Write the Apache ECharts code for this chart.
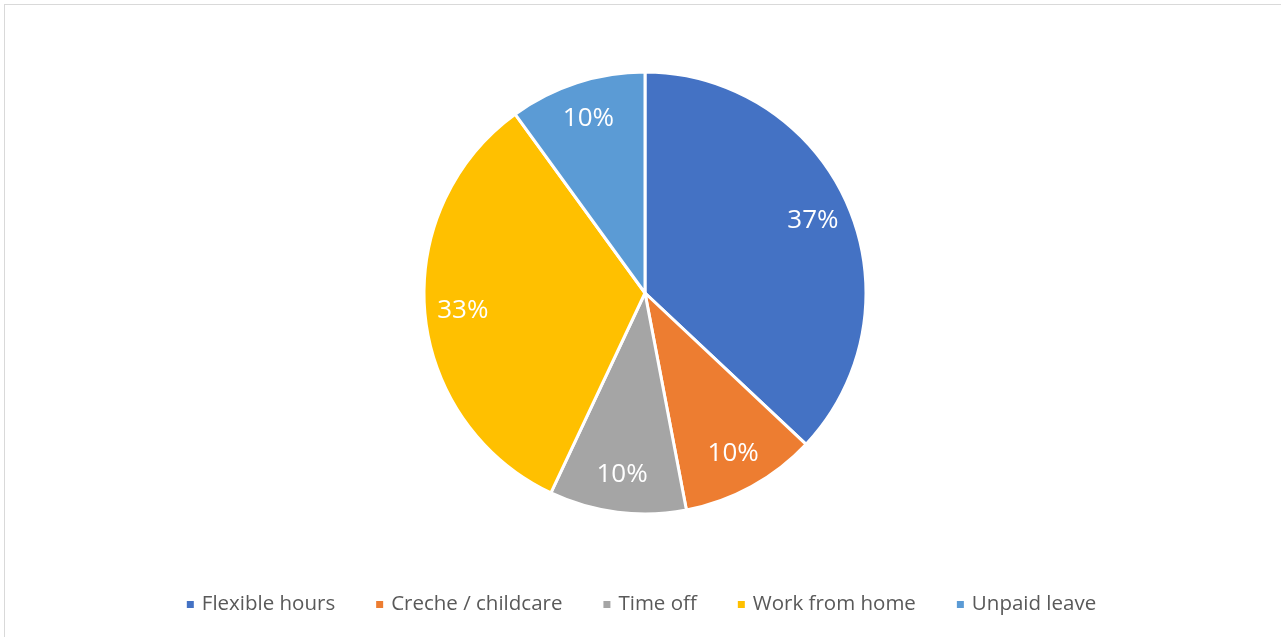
<!DOCTYPE html>
<html>
<head>
<meta charset="utf-8">
<style>
  html, body { margin: 0; padding: 0; background: #fff; }
  #frame { position: absolute; left: 4px; top: 4px; width: 1300px; height: 660px;
           border-top: 1.5px solid #d9d9d9; border-left: 1.5px solid #d9d9d9; }
  #chart { position: absolute; left: 0; top: 0; width: 1281px; height: 637px; }
</style>
<script src="https://cdn.jsdelivr.net/npm/echarts@6/dist/echarts.min.js"></script>
</head>
<body>
<div id="frame"></div>
<div id="chart"></div>
<script>
const categories = ['Flexible hours', 'Creche / childcare', 'Time off', 'Work from home', 'Unpaid leave'];
const shares = [37, 10, 10, 33, 10];
const palette = ['#4472C4', '#ED7D31', '#A5A5A5', '#FFC000', '#5B9BD5'];

const slices = categories.map((name, i) => ({ name, value: shares[i] }));
const center = [645, 293];

const chart = echarts.init(document.getElementById('chart'), null, { renderer: 'canvas' });
chart.setOption({
  animation: false,
  color: palette,
  textStyle: { fontFamily: 'Open Sans' },
  legend: {
    data: categories,
    bottom: 17,
    left: 'center',
    icon: 'rect',
    itemWidth: 9,
    itemHeight: 9,
    itemGap: 39,
    textStyle: { fontSize: 20.5, color: '#595959', fontFamily: 'Open Sans', padding: [0, 0, 0, 2] }
  },
  series: [
    {
      type: 'pie',
      center: center,
      radius: [0, 221],
      startAngle: 90,
      clockwise: true,
      silent: true,
      data: slices,
      itemStyle: { borderColor: '#fff', borderWidth: 3 },
      label: { show: false },
      labelLine: { show: false }
    },
    {
      // label ring: places percentage text at about 81% of the radius
      type: 'pie',
      center: center,
      radius: [139, 221],
      startAngle: 90,
      clockwise: true,
      silent: true,
      data: slices,
      itemStyle: { color: 'rgba(0,0,0,0)', borderWidth: 0 },
      label: {
        show: true,
        position: 'inside',
        formatter: p => p.value + '%',
        color: '#fff',
        fontSize: 26,
        fontFamily: 'Open Sans'
      },
      labelLine: { show: false }
    }
  ]
});
</script>
</body>
</html>
